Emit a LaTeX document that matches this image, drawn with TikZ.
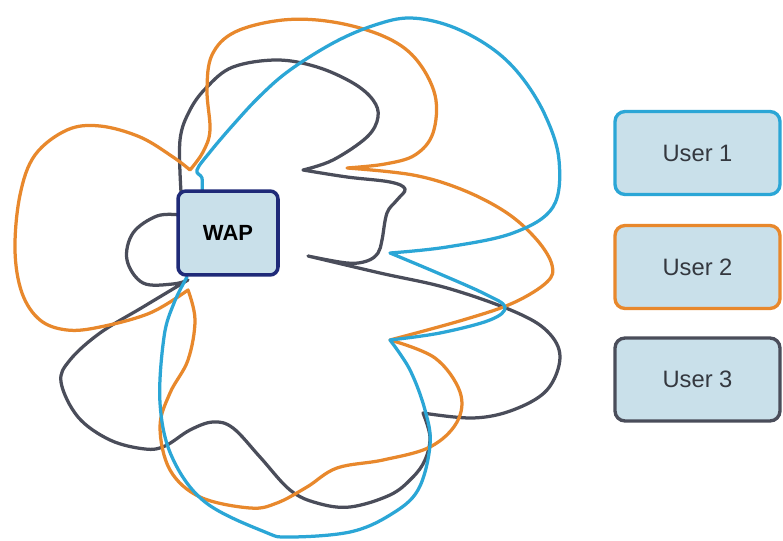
\documentclass[tikz,border=0pt]{standalone}
\usepackage{fontspec}
\newfontfamily\arial{Liberation Sans}
\definecolor{cblue}{HTML}{2BA6D6}
\definecolor{corange}{HTML}{E8882C}
\definecolor{cgrey}{HTML}{4A4D5A}
\definecolor{ctext}{HTML}{34383F}
\definecolor{cnavy}{HTML}{1F2A78}
\definecolor{cfill}{HTML}{C9E0EA}
\tikzset{
  wave/.style={line width=1.85pt, line join=round, line cap=round},
  userbox/.style={draw, line width=1.9pt, fill=cfill, rounded corners=0.2cm,
    minimum width=3.3cm, minimum height=1.66cm, font=\arial\fontsize{13.5}{15}\selectfont, text=ctext},
  wapbox/.style={draw=cnavy, line width=2pt, fill=cfill, rounded corners=0.16cm,
    minimum width=2.0cm, minimum height=1.68cm, font=\arial\bfseries\fontsize{12.5}{15}\selectfont, text=black}
}
\begin{document}
\begin{tikzpicture}[x=0.02cm, y=-0.02cm]
\useasboundingbox[fill=white] (0,0) rectangle (783,540);
% User 3 (grey)
\draw[wave, cgrey]
  plot[smooth, tension=0.6] coordinates {(181,192) (180,140) (190,110) (207,87) (233,67) (277,60) (317,67) (353,83) (373,100) (378,117) (367,137) (333,160) (303,170)}
  -- plot[smooth, tension=0.6] coordinates {(303,170) (347,177) (390,182) (405,189) (397,200) (387,213) (382,240) (378,253) (367,261) (347,263) (308,256)}
  -- plot[smooth, tension=0.6] coordinates {(308,256) (380,273) (447,288) (513,311) (547,331) (560,357) (547,390) (513,410) (473,418) (423,413)}
  -- plot[smooth, tension=0.6] coordinates {(423,413) (430,437) (425,460) (412,478) (390,495) (350,507) (317,503) (290,490) (260,457) (233,428) (213,422) (190,430) (165,446) (145,449) (110,440) (78,417) (61,382) (70,360) (100,333) (143,307) (188,280)}
  -- plot[smooth, tension=0.6] coordinates {(188,280) (173,284) (143,283) (127,260) (133,233) (157,216) (180,215)};
% User 2 (orange)
\draw[wave, corange]
  plot[smooth, tension=0.6] coordinates {(190,170) (203,152) (210,130) (207,90) (212,55) (235,32) (283,20) (333,22) (383,36) (415,58) (435,95) (433,133) (415,155) (385,164) (347,168)}
  -- plot[smooth, tension=0.6] coordinates {(347,168) (413,175) (463,190) (507,213) (537,240) (552,265) (547,282) (513,303) (463,320) (390,340)}
  -- plot[smooth, tension=0.6] coordinates {(390,340) (435,358) (460,392) (457,422) (430,447) (383,460) (337,468) (307,487) (277,503) (250,508) (200,497) (170,470) (160,427) (170,393) (188,360) (195,320) (188,290)}
  -- plot[smooth, tension=0.6] coordinates {(188,290) (150,313) (100,327) (67,330) (40,320) (22,293) (15,250) (20,195) (35,155) (67,130) (100,126) (140,137) (173,157) (190,170)}
  -- cycle;
% User 1 (blue)
\draw[wave, cblue]
  plot[smooth, tension=0.6] coordinates {(202,192) (202,178) (197,170) (210,152) (233,125) (260,96) (290,70) (335,42) (375,25) (410,18) (450,26) (490,47) (520,75) (545,115) (559,160) (553,207) (513,233) (447,247) (390,253)}
  -- plot[smooth, tension=0.6] coordinates {(390,253) (440,274) (485,294) (505,307) (490,320) (440,333) (390,340)}
  -- plot[smooth, tension=0.6] coordinates {(390,340) (410,370) (425,410) (430,445) (418,490) (390,515) (350,532) (290,537) (265,532) (205,502) (172,457) (160,403) (164,337) (174,303) (187,277)};
% boxes
\node[wapbox] (wap) at (228,233) {WAP};
\node[userbox, draw=cblue] (u1) at (697.5,153) {User 1};
\node[userbox, draw=corange] (u2) at (697.5,267) {User 2};
\node[userbox, draw=cgrey] (u3) at (697.5,379.5) {User 3};
\end{tikzpicture}
\end{document}
